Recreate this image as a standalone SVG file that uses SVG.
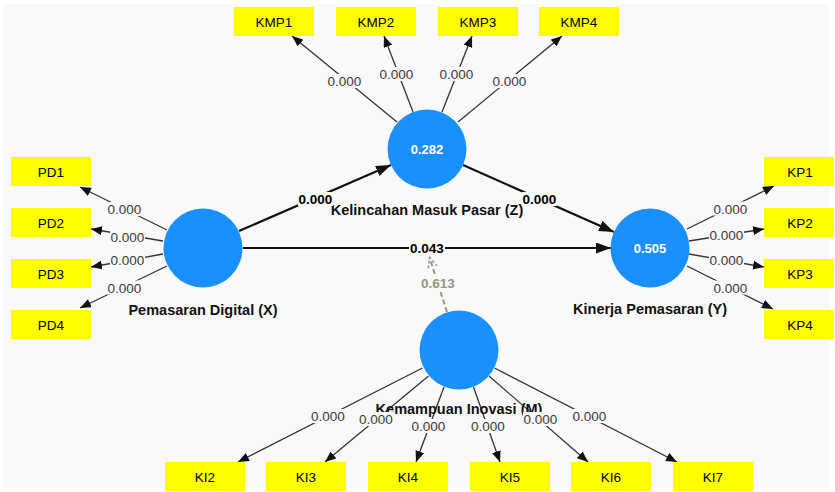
<svg xmlns="http://www.w3.org/2000/svg" width="835" height="492" viewBox="0 0 835 492">
<defs>
<style>
.bg{fill:#f9f9f9}
.ind rect{fill:#ffff00}
.ind text{font-family:"Liberation Sans",Arial,sans-serif;font-size:13.5px;fill:#000;text-anchor:middle}
.lv circle{fill:#1a90ff}
.lv .val{font-family:"Liberation Sans",Arial,sans-serif;font-size:13px;font-weight:bold;fill:#fff;text-anchor:middle}
.lv .name{font-family:"Liberation Sans",Arial,sans-serif;font-size:14.5px;font-weight:bold;fill:#111;text-anchor:middle}
.load{stroke:#333;stroke-width:1.3;fill:none;marker-end:url(#ah)}
.path{stroke:#111;stroke-width:2.2;fill:none;marker-end:url(#ahb)}
.mod{stroke:#8c9b84;stroke-width:2;stroke-dasharray:5,3;fill:none;marker-end:url(#aho)}
.lb rect{fill:#f9f9f9}
.lb text{font-family:"Liberation Sans",Arial,sans-serif;font-size:13.5px;text-anchor:middle}
.lb .l{fill:#3a3a3a}
.lb .p{fill:#000;font-weight:bold}
.lb .m{fill:#8c9b84;font-weight:bold}
</style>
<marker id="ah" markerUnits="userSpaceOnUse" markerWidth="11" markerHeight="9" refX="11" refY="4.5" orient="auto"><path d="M0,0 L11,4.5 L0,9 z" fill="#111"/></marker>
<marker id="ahb" markerUnits="userSpaceOnUse" markerWidth="15" markerHeight="11" refX="15" refY="5.5" orient="auto"><path d="M0,0 L15,5.5 L0,11 z" fill="#111"/></marker>
<marker id="aho" markerUnits="userSpaceOnUse" markerWidth="12" markerHeight="11" refX="11" refY="5.5" orient="auto"><path d="M1,1 L11,5.5 L1,10" fill="none" stroke="#8c9b84" stroke-width="1.5" stroke-dasharray="3,2"/></marker>
</defs>
<rect class="bg" x="3" y="4" width="826" height="484"/>

<g id="connectors">
<line class="path" x1="239" y1="231" x2="391" y2="165"/>
<line class="path" x1="463" y1="165" x2="614" y2="232"/>
<line class="path" x1="243" y1="248" x2="611" y2="248"/>
<line class="mod" x1="447" y1="312" x2="429.5" y2="257.5"/>
<line class="load" x1="397" y1="122" x2="292" y2="36"/>
<line class="load" x1="413" y1="112" x2="384" y2="36"/>
<line class="load" x1="442" y1="112" x2="472" y2="36"/>
<line class="load" x1="458" y1="122" x2="562" y2="36"/>
<line class="load" x1="167" y1="230" x2="80" y2="187"/>
<line class="load" x1="163" y1="241" x2="91" y2="229"/>
<line class="load" x1="163" y1="254" x2="91" y2="267"/>
<line class="load" x1="167" y1="266" x2="80" y2="308"/>
<line class="load" x1="687" y1="229" x2="774" y2="186"/>
<line class="load" x1="689" y1="241" x2="764" y2="229"/>
<line class="load" x1="689" y1="254" x2="764" y2="267"/>
<line class="load" x1="687" y1="266" x2="773" y2="309"/>
<line class="load" x1="422.5" y1="368" x2="238" y2="462"/>
<line class="load" x1="428.5" y1="376" x2="325" y2="462"/>
<line class="load" x1="444" y1="387" x2="416" y2="462"/>
<line class="load" x1="473.5" y1="387" x2="500" y2="462"/>
<line class="load" x1="489" y1="376" x2="588" y2="462"/>
<line class="load" x1="494.5" y1="368" x2="677" y2="462"/>
</g>

<g id="KMP1" class="ind"><rect x="234" y="7" width="80" height="29"/><text x="274" y="26.5">KMP1</text></g>
<g id="KMP2" class="ind"><rect x="336" y="7" width="80" height="29"/><text x="376" y="26.5">KMP2</text></g>
<g id="KMP3" class="ind"><rect x="438" y="7" width="80" height="29"/><text x="478" y="26.5">KMP3</text></g>
<g id="KMP4" class="ind"><rect x="539" y="7" width="80" height="29"/><text x="579" y="26.5">KMP4</text></g>
<g id="PD1" class="ind"><rect x="11" y="157" width="80" height="29"/><text x="51" y="176.5">PD1</text></g>
<g id="PD2" class="ind"><rect x="11" y="208" width="80" height="29"/><text x="51" y="227.5">PD2</text></g>
<g id="PD3" class="ind"><rect x="11" y="259" width="80" height="29"/><text x="51" y="278.5">PD3</text></g>
<g id="PD4" class="ind"><rect x="11" y="310" width="80" height="29"/><text x="51" y="329.5">PD4</text></g>
<g id="KP1" class="ind"><rect x="764" y="157" width="70" height="29"/><text x="800" y="176.5">KP1</text></g>
<g id="KP2" class="ind"><rect x="764" y="208" width="70" height="29"/><text x="800" y="227.5">KP2</text></g>
<g id="KP3" class="ind"><rect x="764" y="259" width="70" height="29"/><text x="800" y="278.5">KP3</text></g>
<g id="KP4" class="ind"><rect x="764" y="310" width="70" height="29"/><text x="800" y="329.5">KP4</text></g>
<g id="KI2" class="ind"><rect x="165" y="462" width="80" height="29"/><text x="205" y="481.5">KI2</text></g>
<g id="KI3" class="ind"><rect x="266" y="462" width="80" height="29"/><text x="306" y="481.5">KI3</text></g>
<g id="KI4" class="ind"><rect x="368" y="462" width="80" height="29"/><text x="408" y="481.5">KI4</text></g>
<g id="KI5" class="ind"><rect x="470" y="462" width="80" height="29"/><text x="510" y="481.5">KI5</text></g>
<g id="KI6" class="ind"><rect x="571" y="462" width="80" height="29"/><text x="611" y="481.5">KI6</text></g>
<g id="KI7" class="ind"><rect x="673" y="462" width="80" height="29"/><text x="713" y="481.5">KI7</text></g>

<g id="Z" class="lv"><circle cx="427" cy="149" r="39.5"/><text class="val" x="427" y="154">0.282</text><text class="name" x="427" y="215">Kelincahan Masuk Pasar (Z)</text></g>
<g id="X" class="lv"><circle cx="203" cy="248" r="39.5"/><text class="name" x="203" y="315">Pemasaran Digital (X)</text></g>
<g id="Y" class="lv"><circle cx="650" cy="248" r="39.5"/><text class="val" x="650" y="253">0.505</text><text class="name" x="650" y="314">Kinerja Pemasaran (Y)</text></g>
<g id="M" class="lv"><circle cx="459" cy="350" r="39.5"/><text class="name" x="459" y="414">Kemampuan Inovasi (M)</text></g>

<g id="connector-labels" class="lb">
<rect x="298" y="192" width="35" height="14"/><text class="p" x="315.5" y="204">0.000</text>
<rect x="522" y="192" width="35" height="14"/><text class="p" x="539.5" y="204">0.000</text>
<rect x="409" y="241" width="36" height="14"/><text class="p" x="427" y="252.5">0.043</text>
<rect x="420" y="276" width="36" height="14"/><text class="m" x="438" y="288">0.613</text>
<rect x="327" y="74" width="35" height="14"/><text class="l" x="344.5" y="86">0.000</text>
<rect x="379" y="67" width="35" height="14"/><text class="l" x="396.5" y="79">0.000</text>
<rect x="439" y="67" width="35" height="14"/><text class="l" x="456.5" y="79">0.000</text>
<rect x="492" y="74" width="35" height="14"/><text class="l" x="509.5" y="86">0.000</text>
<rect x="107" y="202" width="35" height="14"/><text class="l" x="124.5" y="214">0.000</text>
<rect x="110" y="229.5" width="35" height="14"/><text class="l" x="127.5" y="241.5">0.000</text>
<rect x="110" y="252.5" width="35" height="14"/><text class="l" x="127.5" y="264.5">0.000</text>
<rect x="107" y="280.5" width="35" height="14"/><text class="l" x="124.5" y="292.5">0.000</text>
<rect x="713" y="201.5" width="35" height="14"/><text class="l" x="730.5" y="213.5">0.000</text>
<rect x="709" y="228" width="35" height="14"/><text class="l" x="726.5" y="240">0.000</text>
<rect x="709" y="253" width="35" height="14"/><text class="l" x="726.5" y="265">0.000</text>
<rect x="713" y="280.5" width="35" height="14"/><text class="l" x="730.5" y="292.5">0.000</text>
<rect x="310.5" y="409" width="35" height="14"/><text class="l" x="328" y="421">0.000</text>
<rect x="358.5" y="412" width="35" height="14"/><text class="l" x="376" y="424">0.000</text>
<rect x="411" y="419" width="35" height="14"/><text class="l" x="428.5" y="431">0.000</text>
<rect x="470.5" y="419" width="35" height="14"/><text class="l" x="488" y="431">0.000</text>
<rect x="523" y="412" width="35" height="14"/><text class="l" x="540.5" y="424">0.000</text>
<rect x="572" y="409" width="35" height="14"/><text class="l" x="589.5" y="421">0.000</text>
</g>
</svg>
